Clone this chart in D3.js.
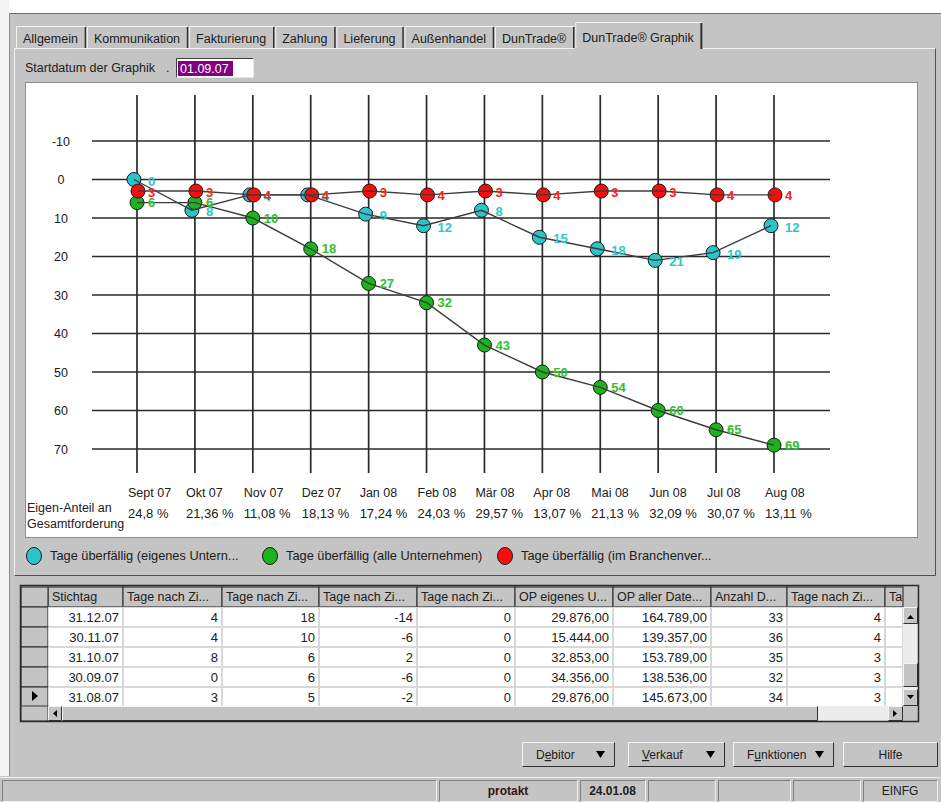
<!DOCTYPE html>
<html>
<head>
<meta charset="utf-8">
<script src="https://cdn.jsdelivr.net/npm/d3@7"></script>
<style>
  body { margin: 0; background: #c4c4c4; }
  svg { display: block; font-family: "Liberation Sans", Arial, sans-serif; }
</style>
</head>
<body>
<svg id="fenster" width="941" height="802"></svg>
<script>
// Daten der Graphik
const monate = ["Sept 07", "Okt 07", "Nov 07", "Dez 07", "Jan 08", "Feb 08", "Mär 08", "Apr 08", "Mai 08", "Jun 08", "Jul 08", "Aug 08"];
const eigenAnteil = ["24,8 %", "21,36 %", "11,08 %", "18,13 %", "17,24 %", "24,03 %", "29,57 %", "13,07 %", "21,13 %", "32,09 %", "30,07 %", "13,11 %"];
const tageEigenes = [0, 8, 4, 4, 9, 12, 8, 15, 18, 21, 19, 12];
const tageAlle = [6, 6, 10, 18, 27, 32, 43, 50, 54, 60, 65, 69];
const tageBranche = [3, 3, 4, 4, 3, 4, 3, 4, 3, 3, 4, 4];
const yWerte = [-10, 0, 10, 20, 30, 40, 50, 60, 70];
const legende = ["Tage überfällig (eigenes Untern...", "Tage überfällig (alle Unternehmen)", "Tage überfällig (im Branchenver..."];

// Reiter
const reiter = ["Allgemein", "Kommunikation", "Fakturierung", "Zahlung", "Lieferung", "Außenhandel", "DunTrade®", "DunTrade® Graphik"];

// Tabelle
const spalten = ["Stichtag", "Tage nach Zi...", "Tage nach Zi...", "Tage nach Zi...", "Tage nach Zi...", "OP eigenes U...", "OP aller Date...", "Anzahl D...", "Tage nach Zi...", "Ta"];
const stichtage = ["31.12.07", "30.11.07", "31.10.07", "30.09.07", "31.08.07"];
const spEigenes = [4, 4, 8, 0, 3];
const spAlle = [18, 10, 6, 6, 5];
const spDifferenz = [-14, -6, 2, -6, -2];
const spNull = [0, 0, 0, 0, 0];
const opEigenes = ["29.876,00", "15.444,00", "32.853,00", "34.356,00", "29.876,00"];
const opAlle = ["164.789,00", "139.357,00", "153.789,00", "138.536,00", "145.673,00"];
const anzahl = [33, 36, 35, 32, 34];
const spBranche = [4, 4, 3, 3, 3];

const knoepfe = [["D", "e", "bitor", true], ["", "V", "erkauf", true], ["F", "u", "nktionen", true], ["Hilfe", "", "", false]];
const status = ["", "protakt", "24.01.08", "", "", "", "EINFG"];

const svg = d3.select("#fenster");
const grau = "#c4c4c4";

// Fensterrahmen
svg.append("rect").attr("x", 0).attr("y", 0).attr("width", 941).attr("height", 802).attr("fill", grau);
svg.append("rect").attr("x", 0).attr("y", 0).attr("width", 941).attr("height", 13).attr("fill", "#ffffff");
svg.append("rect").attr("x", 0).attr("y", 0).attr("width", 9).attr("height", 776).attr("fill", "#f4f4f4");
svg.append("line").attr("x1", 9).attr("x2", 941).attr("y1", 13.5).attr("y2", 13.5).attr("stroke", "#6a6a6a");
svg.append("line").attr("x1", 9.5).attr("x2", 9.5).attr("y1", 13).attr("y2", 776).attr("stroke", "#8a8a8a");

// Panel
function relief(g, x, y, w, h, hell, dunkel) {
  g.append("path").attr("d", `M${x},${y + h}V${y}H${x + w}`).attr("fill", "none").attr("stroke", hell);
  g.append("path").attr("d", `M${x + w},${y}V${y + h}H${x}`).attr("fill", "none").attr("stroke", dunkel);
}
relief(svg, 14.5, 48.5, 921, 527, "#f0f0f0", "#505050");

// Reiter
const gReiter = svg.append("g");
let rx = 16;
reiter.forEach(function (name, i) {
  const aktiv = i === reiter.length - 1;
  const t = gReiter.append("text").attr("font-size", 12.5).attr("fill", "#202020").text(name);
  const w = t.node().getComputedTextLength() + 15;
  const top = aktiv ? 22 : 26;
  if (aktiv) {
    gReiter.insert("rect", "text").attr("x", rx - 1).attr("y", top).attr("width", w + 2).attr("height", 50 - top).attr("fill", grau);
  }
  gReiter.append("path")
    .attr("d", `M${rx + 0.5},48V${top + 0.5}H${rx + w - 0.5}`)
    .attr("fill", "none").attr("stroke", "#f4f4f4");
  gReiter.append("line").attr("x1", rx + w - 0.5).attr("x2", rx + w - 0.5).attr("y1", top + 1).attr("y2", aktiv ? 49 : 48)
    .attr("stroke", "#303030").attr("stroke-width", aktiv ? 2 : 1.5);
  t.attr("x", rx + 7).attr("y", aktiv ? 42 : 43);
  rx += w + 1;
});

// Startdatum
svg.append("text").attr("x", 25).attr("y", 72).attr("font-size", 12.5).attr("fill", "#202020").text("Startdatum der Graphik");
svg.append("text").attr("x", 166).attr("y", 72).attr("font-size", 12.5).attr("fill", "#202020").text(".");
svg.append("rect").attr("x", 177).attr("y", 59).attr("width", 76).attr("height", 18).attr("fill", "#ffffff");
relief(svg, 176.5, 58.5, 77, 19, "#404040", "#e8e8e8");
svg.append("rect").attr("x", 178).attr("y", 61).attr("width", 55).attr("height", 15).attr("fill", "#800080");
svg.append("text").attr("x", 180).attr("y", 73).attr("font-size", 12.5).attr("fill", "#ffffff").text("01.09.07");

// Diagrammfläche
svg.append("rect").attr("x", 25.5).attr("y", 82.5).attr("width", 892).attr("height", 455)
  .attr("fill", "#ffffff").attr("stroke", "#8c8c8c");

const x = d3.scalePoint().domain(monate).range([137, 774]);
const y = d3.scaleLinear().domain([-10, 70]).range([141, 449]);

const gGitter = svg.append("g").attr("stroke", "#2a2a2a").attr("stroke-width", 1.7);
gGitter.selectAll("line.h").data(yWerte).join("line").attr("class", "h")
  .attr("x1", 92).attr("x2", 830).attr("y1", d => y(d)).attr("y2", d => y(d));
gGitter.selectAll("line.v").data(monate).join("line").attr("class", "v")
  .attr("x1", d => x(d)).attr("x2", d => x(d)).attr("y1", 95).attr("y2", 473);

svg.append("g").selectAll("text").data(yWerte).join("text")
  .attr("x", 61).attr("y", d => y(d) + 4.5).attr("text-anchor", "middle")
  .attr("font-size", 12.5).attr("fill", "#202020").text(d => d);

svg.append("g").selectAll("text").data(monate).join("text")
  .attr("x", d => x(d) - 9).attr("y", 497).attr("font-size", 12.5).attr("fill", "#202020").text(d => d);
svg.append("g").selectAll("text").data(eigenAnteil).join("text")
  .attr("x", (d, i) => x(monate[i]) - 9).attr("y", 518).attr("font-size", 13).attr("fill", "#202020").text(d => d);
svg.append("text").attr("x", 27).attr("y", 512).attr("font-size", 12.5).attr("fill", "#202020").text("Eigen-Anteil an");
svg.append("text").attr("x", 27).attr("y", 528).attr("font-size", 12.5).attr("fill", "#202020").text("Gesamtforderung");

const reihen = [
  { werte: tageEigenes, fuell: "#2cc4c8", schrift: "#2cc8c8", dx: -3, dy: 6 },
  { werte: tageAlle, fuell: "#1cb41c", schrift: "#30c030", dx: 0, dy: 4.5 },
  { werte: tageBranche, fuell: "#ff0a0a", schrift: "#ff2020", dx: 1, dy: 5.5 }
];

const linie = d3.line();
reihen.forEach(function (r) {
  svg.append("g").selectAll("circle").data(r.werte).join("circle")
    .attr("cx", (d, i) => x(monate[i]) + r.dx).attr("cy", d => y(d)).attr("r", 7)
    .attr("fill", r.fuell).attr("stroke", "#1a1a1a").attr("stroke-width", 1);
});
reihen.forEach(function (r) {
  svg.append("path")
    .attr("d", linie(r.werte.map((d, i) => [x(monate[i]) + r.dx, y(d)])))
    .attr("fill", "none").attr("stroke", "#3c3c3c").attr("stroke-width", 1.4);
});
reihen.forEach(function (r) {
  svg.append("g").selectAll("text").data(r.werte).join("text")
    .attr("x", (d, i) => x(monate[i]) + 11).attr("y", d => y(d) + r.dy)
    .attr("font-size", 13).attr("font-weight", "bold").attr("fill", r.schrift).text(d => d);
});

// Legende
const legX = [34, 270, 505];
reihen.forEach(function (r, i) {
  svg.append("ellipse").attr("cx", legX[i]).attr("cy", 556).attr("rx", 7.5).attr("ry", 8.5)
    .attr("fill", r.fuell).attr("stroke", "#1a1a1a");
  svg.append("text").attr("x", legX[i] + 16).attr("y", 560).attr("font-size", 12.8).attr("fill", "#202020").text(legende[i]);
});

// Tabelle
const gTab = svg.append("g");
const grenzen = [48, 123, 222, 319, 417, 515, 613, 711, 787, 885, 903];
const kopfY = 587, zeileH = 20, zeilenY = 607;
gTab.append("rect").attr("x", 20).attr("y", 585).attr("width", 899).attr("height", 137).attr("fill", grau);
gTab.append("rect").attr("x", 48).attr("y", zeilenY).attr("width", 855).attr("height", zeileH * 5 - 1).attr("fill", "#ffffff");

const zeilen = stichtage.map((s, i) => [s, spEigenes[i], spAlle[i], spDifferenz[i], spNull[i], opEigenes[i], opAlle[i], anzahl[i], spBranche[i], ""]);

// Kopfzeile
spalten.forEach(function (s, j) {
  const x0 = grenzen[j], x1 = grenzen[j + 1];
  gTab.append("rect").attr("x", x0).attr("y", kopfY).attr("width", x1 - x0).attr("height", 20).attr("fill", grau)
    .attr("stroke", "#3a3a3a").attr("stroke-width", 1.2);
  gTab.append("text").attr("x", x0 + 4).attr("y", kopfY + 14).attr("font-size", 12.5).attr("fill", "#202020").text(s);
});
gTab.append("rect").attr("x", 21).attr("y", kopfY).attr("width", 27).attr("height", 20).attr("fill", grau).attr("stroke", "#3a3a3a").attr("stroke-width", 1.2);

zeilen.forEach(function (z, i) {
  const y0 = zeilenY + i * zeileH;
  gTab.append("rect").attr("x", 21).attr("y", y0).attr("width", 27).attr("height", zeileH).attr("fill", grau)
    .attr("stroke", "#3a3a3a").attr("stroke-width", 1.2);
  z.forEach(function (v, j) {
    const x0 = grenzen[j], x1 = grenzen[j + 1];
    gTab.append("rect").attr("x", x0 + 0.5).attr("y", y0 + 0.5).attr("width", x1 - x0 - 1).attr("height", zeileH - 1)
      .attr("fill", "#ffffff").attr("stroke", "#d8d8d8");
    gTab.append("text").attr("x", x1 - 4).attr("y", y0 + 15).attr("text-anchor", "end")
      .attr("font-size", 13).attr("fill", "#202020").text(v);
  });
});
gTab.append("path").attr("d", "M32,691l6,5l-6,5z").attr("fill", "#000");

// Bildlaufleisten
function knopf(g, x0, y0, w, h) {
  g.append("rect").attr("x", x0).attr("y", y0).attr("width", w).attr("height", h).attr("fill", grau);
  relief(g, x0 + 0.5, y0 + 0.5, w - 1, h - 1, "#f4f4f4", "#303030");
}
gTab.append("rect").attr("x", 903).attr("y", 607).attr("width", 15).attr("height", 99).attr("fill", "#ececec");
knopf(gTab, 903, 607, 15, 17);
gTab.append("path").attr("d", "M907,619l3.5,-4l3.5,4z").attr("fill", "#000");
knopf(gTab, 903, 663, 15, 24);
knopf(gTab, 903, 689, 15, 17);
gTab.append("path").attr("d", "M907,695l3.5,4l3.5,-4z").attr("fill", "#000");

gTab.append("rect").attr("x", 21).attr("y", 706).attr("width", 27).attr("height", 15).attr("fill", grau).attr("stroke", "#3a3a3a");
gTab.append("rect").attr("x", 48).attr("y", 706).attr("width", 855).attr("height", 15).attr("fill", "#ececec");
knopf(gTab, 48, 706, 14, 15);
gTab.append("path").attr("d", "M57,710l-4,3.5l4,3.5z").attr("fill", "#000");
knopf(gTab, 62, 706, 756, 15);
knopf(gTab, 888, 706, 15, 15);
gTab.append("path").attr("d", "M893,710l4,3.5l-4,3.5z").attr("fill", "#000");
gTab.append("rect").attr("x", 20.5).attr("y", 585.5).attr("width", 898).attr("height", 136).attr("fill", "none").attr("stroke", "#2a2a2a").attr("stroke-width", 1.5);

// Knöpfe unten
const knopfX = [522, 628, 733, 843], knopfB = [93, 97, 101, 95];
knoepfe.forEach(function (k, i) {
  const g = svg.append("g");
  knopf(g, knopfX[i], 742, knopfB[i], 25);
  const t = g.append("text").attr("y", 759).attr("font-size", 12).attr("fill", "#202020");
  if (k[3]) {
    t.attr("x", knopfX[i] + 14);
    t.append("tspan").text(k[0]);
    t.append("tspan").attr("text-decoration", "underline").text(k[1]);
    t.append("tspan").text(k[2]);
    g.append("path").attr("d", `M${knopfX[i] + knopfB[i] - 19},751h9l-4.5,7z`).attr("fill", "#000");
  } else {
    t.attr("x", knopfX[i] + knopfB[i] / 2).attr("text-anchor", "middle").text(k[0]);
  }
});

// Statuszeile
svg.append("line").attr("x1", 0).attr("x2", 941).attr("y1", 777.5).attr("y2", 777.5).attr("stroke", "#f0f0f0");
const statusX = [0, 437, 578, 646, 716, 791, 861, 938];
status.forEach(function (s, i) {
  const x0 = statusX[i] + 2, w = statusX[i + 1] - statusX[i] - 3;
  relief(svg, x0 + 0.5, 780.5, w, 21, "#808080", "#f0f0f0");
  if (s) {
    svg.append("text").attr("x", x0 + w / 2).attr("y", 795).attr("text-anchor", "middle")
      .attr("font-size", 12).attr("font-weight", i < 3 ? "bold" : "normal").attr("fill", i === 1 ? "#3a1010" : "#202020").text(s);
  }
});
</script>
</body>
</html>
